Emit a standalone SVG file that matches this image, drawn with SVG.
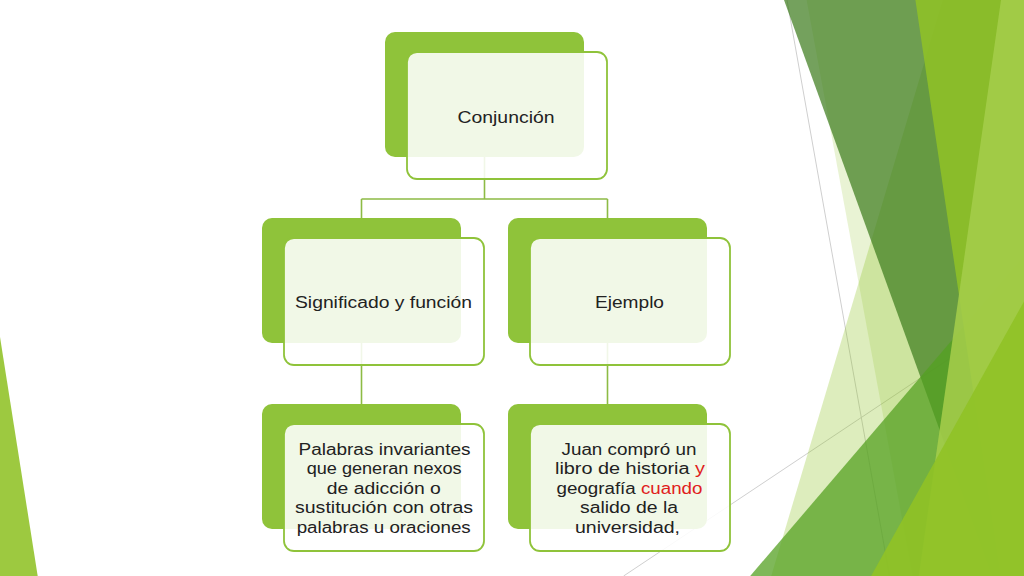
<svg xmlns="http://www.w3.org/2000/svg" width="1024" height="576" viewBox="0 0 1024 576">
  <style>
    .bg-line { stroke: #cfcfcf; stroke-width: 1; fill: none; }
    .back { fill: #8fc33a; }
    .front { fill: #ffffff; fill-opacity: 0.88; stroke: #8fc33a; stroke-width: 1.8; }
    .conn { stroke: #8dbb45; stroke-width: 1.6; fill: none; }
    .t { font-family: "Liberation Sans", Arial, sans-serif; font-size: 17.3px; fill: #222222; text-anchor: middle; }
    .red { fill: #e0201b; }
  </style>
  <rect x="0" y="0" width="1024" height="576" fill="#ffffff"/>
  <g id="background">
    <line class="bg-line" x1="787" y1="0" x2="889.5" y2="576"/>
    <line class="bg-line" x1="623.6" y1="576" x2="1023.7" y2="309.2"/>
    <polygon points="806.6,0 1024,0 1024,576 912.6,576" fill="#90c226" fill-opacity="0.2"/>
    <polygon points="943,0 1024,0 1024,576 771.2,576" fill="#90c226" fill-opacity="0.3"/>
    <polygon points="784,0 1024,0 1024,576 992.5,576" fill="#3f7d1f" fill-opacity="0.72"/>
    <polygon points="1024,256 1024,576 750.2,576" fill="#54a021" fill-opacity="0.75"/>
    <polygon points="915.4,0 1024,0 1024,576 1000.5,576" fill="#90c226" fill-opacity="0.85"/>
    <polygon points="1001,0 1024,0 1024,576 918.8,576" fill="#a4cd4a" fill-opacity="0.88"/>
    <polygon points="1024,301.5 1024,576 871.1,576" fill="#90c226" fill-opacity="0.9"/>
    <polygon points="0,337 37.7,576 0,576" fill="#90c226" fill-opacity="0.88"/>
  </g>
  <g id="connectors">
    <path class="conn" d="M484.5,157 V199 M361.5,199 H607.5 M361.5,199 V218 M607.5,199 V218"/>
    <path class="conn" d="M361.5,343 V404"/>
    <path class="conn" d="M607.5,343 V404"/>
  </g>
  <g id="node-conjuncion">
    <rect class="back" x="385" y="32" width="199" height="125" rx="10"/>
    <rect class="front" x="407" y="52" width="200" height="127" rx="10"/>
    <text class="t" x="506" y="123" textLength="97" lengthAdjust="spacingAndGlyphs">Conjunción</text>
  </g>
  <g id="node-significado">
    <rect class="back" x="262" y="218" width="199" height="125" rx="10"/>
    <rect class="front" x="284" y="238" width="200" height="127" rx="10"/>
    <text class="t" x="383.5" y="308" textLength="177" lengthAdjust="spacingAndGlyphs">Significado y función</text>
  </g>
  <g id="node-ejemplo">
    <rect class="back" x="508" y="218" width="199" height="125" rx="10"/>
    <rect class="front" x="530" y="238" width="200" height="127" rx="10"/>
    <text class="t" x="629.5" y="308" textLength="69" lengthAdjust="spacingAndGlyphs">Ejemplo</text>
  </g>
  <g id="node-definicion">
    <rect class="back" x="262" y="404" width="199" height="125" rx="10"/>
    <rect class="front" x="284" y="424" width="200" height="127" rx="10"/>
    <text class="t" x="384.5" y="454.5" textLength="172" lengthAdjust="spacingAndGlyphs">Palabras invariantes</text>
    <text class="t" x="384.2" y="474" textLength="155" lengthAdjust="spacingAndGlyphs">que generan nexos</text>
    <text class="t" x="383.8" y="493.5" textLength="114" lengthAdjust="spacingAndGlyphs">de adicción o</text>
    <text class="t" x="384" y="513" textLength="178" lengthAdjust="spacingAndGlyphs">sustitución con otras</text>
    <text class="t" x="383.7" y="532.5" textLength="174" lengthAdjust="spacingAndGlyphs">palabras u oraciones</text>
  </g>
  <g id="node-ejemplo-texto">
    <rect class="back" x="508" y="404" width="199" height="125" rx="10"/>
    <rect class="front" x="530" y="424" width="200" height="127" rx="10"/>
    <text class="t" x="629" y="454.5" textLength="135" lengthAdjust="spacingAndGlyphs">Juan compró un</text>
    <text class="t" x="630" y="474" textLength="150" lengthAdjust="spacingAndGlyphs">libro de historia <tspan class="red">y</tspan></text>
    <text class="t" x="629.5" y="493.5" textLength="146" lengthAdjust="spacingAndGlyphs">geografía <tspan class="red">cuando</tspan></text>
    <text class="t" x="629" y="513" textLength="98" lengthAdjust="spacingAndGlyphs">salido de la</text>
    <text class="t" x="627.5" y="532.5" textLength="105" lengthAdjust="spacingAndGlyphs">universidad,</text>
  </g>
</svg>
